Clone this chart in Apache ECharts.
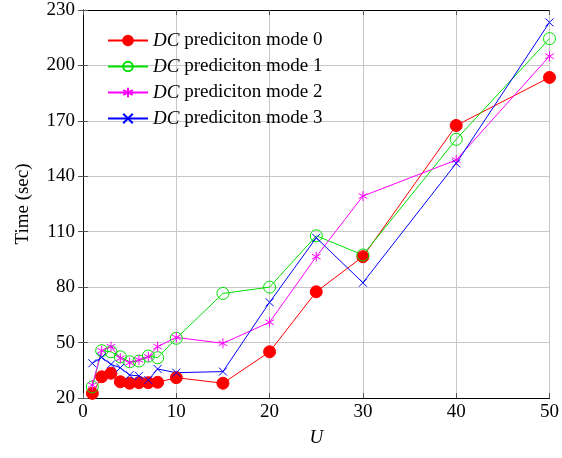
<!DOCTYPE html>
<html>
<head>
<meta charset="utf-8">
<script src="https://cdn.jsdelivr.net/npm/echarts@6/dist/echarts.min.js"></script>
<style>html,body{margin:0;padding:0;background:#fff}#c{width:562px;height:458px}</style>
</head>
<body>
<div id="c"></div>
<script>
var U = [1, 2, 3, 4, 5, 6, 7, 8, 10, 15, 20, 25, 30, 40, 50];
var mode0 = [22.5, 31.5, 33.4, 28.8, 28, 28.3, 28.3, 28.5, 31, 28, 45, 77.5, 96.5, 167.5, 193.5];
var mode1 = [26, 45.6, 45, 42.3, 39.6, 40, 42.7, 41.8, 52.3, 76.6, 80, 107.8, 97.4, 160, 214.5];
var mode2 = [27, 45.6, 47.8, 41.5, 39.1, 40.6, 42.3, 47.8, 52.8, 49.6, 61, 96.5, 129.3, 148.8, 205];
var mode3 = [38.8, 42, 38.2, 36.4, 32.4, 32, 29.7, 35.7, 33.7, 34.3, 71.8, 106.7, 82.4, 147, 223.3];
var seriesNames = ['prediciton mode 0', 'prediciton mode 1', 'prediciton mode 2', 'prediciton mode 3'];
var xTicks = {min: 0, max: 50, interval: 10};
var yTicks = {min: 20, max: 230, interval: 30};

function pairs(ys) { return U.map(function (u, i) { return [u, ys[i]]; }); }

var FONT = '"Liberation Serif", "DejaVu Serif", serif';
var FS = 19;
var crossPath = 'path://M0,0L10,10M10,0L0,10';
var asteriskPath = 'path://M5,0L5,10M0.67,2.5L9.33,7.5M0.67,7.5L9.33,2.5';
var ringPath = 'path://M10,5A5,5,0,1,1,0,5A5,5,0,1,1,10,5Z';

function mkSeries(name, ys, color, symbol, size, fill) {
  return {
    name: name, type: 'line', data: pairs(ys),
    symbol: symbol, symbolSize: size, symbolKeepAspect: true,
    showAllSymbol: true,
    lineStyle: {color: color, width: 1},
    itemStyle: {color: fill || color, borderColor: color, borderWidth: 1},
    emphasis: {disabled: true},
    animation: false
  };
}

var chart = echarts.init(document.getElementById('c'), null, {renderer: 'canvas'});
var axisCommon = {
  axisLine: {show: true, lineStyle: {color: '#000', width: 1}},
  axisTick: {show: true, inside: true, length: 5, lineStyle: {color: '#555'}}
};
chart.setOption({
  animation: false,
  grid: {left: 83, right: 10, top: 10, bottom: 60, containLabel: false},
  legend: {
    orient: 'vertical', left: 102, top: 26, itemWidth: 40, itemHeight: 12, itemGap: 7,
    data: seriesNames,
    formatter: function (n) { return '{i|DC}{t| ' + n + '}'; },
    textStyle: {fontFamily: FONT, fontSize: FS, color: '#000', lineHeight: 19,
      rich: {
        i: {fontFamily: FONT, fontSize: FS, fontStyle: 'italic', color: '#000', lineHeight: 19},
        t: {fontFamily: FONT, fontSize: FS, color: '#000', lineHeight: 19}
      }}
  },
  xAxis: [
    Object.assign({type: 'value', min: xTicks.min, max: xTicks.max, interval: xTicks.interval,
      name: 'U', nameLocation: 'middle', nameGap: 30,
      nameTextStyle: {fontFamily: FONT, fontSize: FS, fontStyle: 'italic', color: '#000'},
      axisLabel: {fontFamily: FONT, fontSize: FS, color: '#000', margin: 5},
      splitLine: {show: true, lineStyle: {color: '#c8c8c8', width: 1}}}, axisCommon),
    Object.assign({type: 'value', position: 'top', min: xTicks.min, max: xTicks.max, interval: xTicks.interval,
      axisLabel: {show: false}, splitLine: {show: false}}, axisCommon)
  ],
  yAxis: [
    Object.assign({type: 'value', min: yTicks.min, max: yTicks.max, interval: yTicks.interval,
      name: 'Time (sec)', nameLocation: 'middle', nameGap: 50, nameRotate: 90,
      nameTextStyle: {fontFamily: FONT, fontSize: FS, color: '#000'},
      axisLabel: {fontFamily: FONT, fontSize: FS, color: '#000', margin: 8},
      splitLine: {show: true, lineStyle: {color: '#c8c8c8', width: 1}}}, axisCommon),
    Object.assign({type: 'value', position: 'right', min: yTicks.min, max: yTicks.max, interval: yTicks.interval,
      axisLabel: {show: false}, splitLine: {show: false}}, axisCommon)
  ],
  series: [
    mkSeries(seriesNames[0], mode0, '#ff0000', 'circle', 12),
    mkSeries(seriesNames[1], mode1, '#00e000', ringPath, 12, 'rgba(0,0,0,0)'),
    mkSeries(seriesNames[2], mode2, '#ff00ff', asteriskPath, 10),
    mkSeries(seriesNames[3], mode3, '#0000ff', crossPath, 8)
  ]
});
</script>
</body>
</html>
